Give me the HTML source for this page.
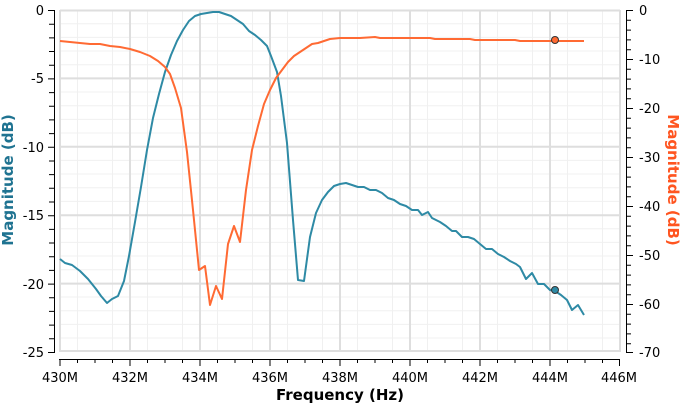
<!DOCTYPE html>
<html><head><style>body{margin:0;background:#fff}svg text{font-family:"DejaVu Sans","Liberation Sans",sans-serif}</style></head><body>
<svg width="683" height="408" viewBox="0 0 683 408" xmlns="http://www.w3.org/2000/svg">
<g stroke="#f0f0f0" stroke-width="1">
<path d="M77.5 10V352M112.5 10V352M147.5 10V352M182.5 10V352M217.5 10V352M252.5 10V352M287.5 10V352M322.5 10V352M357.5 10V352M392.5 10V352M427.5 10V352M462.5 10V352M497.5 10V352M532.5 10V352M567.5 10V352M602.5 10V352"/>
<path d="M60 23.7H620M60 37.4H620M60 51H620M60 64.7H620M60 92H620M60 105.7H620M60 119.4H620M60 133H620M60 160.4H620M60 174H620M60 187.7H620M60 201.4H620M60 228.7H620M60 242.4H620M60 256H620M60 269.7H620M60 297H620M60 310.7H620M60 324.4H620M60 338H620"/>
</g>
<g stroke="#dedede" stroke-width="2">
<path d="M60 10V352M130 10V352M200 10V352M270 10V352M340 10V352M410 10V352M480 10V352M550 10V352M620 10V352"/>
<path d="M60 10.5H620M60 78.4H620M60 146.8H620M60 215.2H620M60 283.6H620M60 351H620"/>
</g>
<g stroke="#000" stroke-width="1" fill="none">
<path d="M54.5 10V353M48 10.5H54.5M48 78.9H54.5M48 147.3H54.5M48 215.7H54.5M48 284.1H54.5M48 352.5H54.5"/>
<path d="M49 24.2H54.5M49 37.9H54.5M49 51.5H54.5M49 65.2H54.5M49 92.6H54.5M49 106.2H54.5M49 119.9H54.5M49 133.6H54.5M49 161H54.5M49 174.6H54.5M49 188.3H54.5M49 202H54.5M49 229.4H54.5M49 243H54.5M49 256.7H54.5M49 270.4H54.5M49 297.8H54.5M49 311.4H54.5M49 325.1H54.5M49 338.8H54.5"/>
<path d="M626.5 10V353M626.5 10.5H633M626.5 59.5H633M626.5 108.5H633M626.5 157.5H633M626.5 206.5H633M626.5 255.5H633M626.5 304.5H633M626.5 352.5H633"/>
<path d="M626.5 20.3H631M626.5 30.1H631M626.5 39.9H631M626.5 49.7H631M626.5 69.3H631M626.5 79.1H631M626.5 88.9H631M626.5 98.7H631M626.5 118.3H631M626.5 128.1H631M626.5 137.9H631M626.5 147.7H631M626.5 167.3H631M626.5 177.1H631M626.5 186.9H631M626.5 196.7H631M626.5 216.3H631M626.5 226.1H631M626.5 235.9H631M626.5 245.7H631M626.5 265.3H631M626.5 275.1H631M626.5 284.9H631M626.5 294.7H631M626.5 314.3H631M626.5 324.1H631M626.5 333.9H631M626.5 343.7H631"/>
<path d="M59 359.5H620M60 359.5V366M130 359.5V366M200 359.5V366M270 359.5V366M340 359.5V366M410 359.5V366M480 359.5V366M550 359.5V366M619.5 359.5V366M77.5 359.5V363M95 359.5V363M112.5 359.5V363M147.5 359.5V363M165 359.5V363M182.5 359.5V363M217.5 359.5V363M235 359.5V363M252.5 359.5V363M287.5 359.5V363M305 359.5V363M322.5 359.5V363M357.5 359.5V363M375 359.5V363M392.5 359.5V363M427.5 359.5V363M445 359.5V363M462.5 359.5V363M497.5 359.5V363M515 359.5V363M532.5 359.5V363M567.5 359.5V363M585 359.5V363M602.5 359.5V363"/>
</g>
<g font-size="13" fill="#000" text-anchor="end">
<text x="44" y="15">0</text><text x="44" y="83">-5</text><text x="44" y="152">-10</text><text x="44" y="220">-15</text><text x="44" y="289">-20</text><text x="44" y="357">-25</text>
</g>
<g font-size="13" fill="#000" text-anchor="start">
<text x="639" y="15">0</text><text x="639" y="64">-10</text><text x="639" y="113">-20</text><text x="639" y="162">-30</text><text x="639" y="211">-40</text><text x="639" y="260">-50</text><text x="639" y="309">-60</text><text x="639" y="357">-70</text>
</g>
<g font-size="13" fill="#000" text-anchor="middle">
<text x="60" y="382">430M</text><text x="130" y="382">432M</text><text x="200" y="382">434M</text><text x="270" y="382">436M</text><text x="340" y="382">438M</text><text x="410" y="382">440M</text><text x="480" y="382">442M</text><text x="550" y="382">444M</text><text x="619" y="382">446M</text>
</g>
<text x="340" y="400" font-size="15" font-weight="bold" text-anchor="middle">Frequency (Hz)</text>
<text transform="translate(13,180) rotate(-90)" font-size="15" font-weight="bold" fill="#1f7391" text-anchor="middle">Magnitude (dB)</text>
<text transform="translate(668,180) rotate(90)" font-size="15" font-weight="bold" fill="#ff5520" text-anchor="middle">Magnitude (dB)</text>
<polyline fill="none" stroke="#2e8aa5" stroke-width="2" stroke-linejoin="round" points="60,259 65,263 72,265 80,271 88,279 96,289 101,296 107,303 112,299 118,296 124,281 129,256 135,222 141,187 147,150 153,118 159,94 165,72 171,55 177,41 183,30 189,21 195,16 201,14 207,13 213,12 219,12 225,14 231,16 237,20 243,24 249,31 255,35 261,40 267,46 271,56 277,72 281,96 287,143 293,220 298,280 304,281 310,237 316,213 322,200 328,192 334,186 340,184 346,183 352,185 358,187 364,187 370,190 376,190 382,193 388,198 394,200 400,204 406,206 412,210 418,210 422,215 428,212 432,218 440,222 446,226 452,231 456,231 462,237 468,237 474,239 480,244 486,249 492,249 498,254 504,257 510,261 516,264 520,267 526,279 532,273 538,284 544,284 550,290 555,291 561,295 567,300 572,310 578,305 584,315"/>
<polyline fill="none" stroke="#ff6a33" stroke-width="2" stroke-linejoin="round" points="60,41 70,42 80,43 90,44 100,44 110,46 120,47 130,49 140,52 150,56 158,61 165,67 170,74 175,88 181,108 187,152 193,210 199,270 205,266 210,305 216,286 222,299 228,244 234,226 240,242 246,190 252,150 258,126 264,104 270,90 276,78 282,70 288,62 294,56 300,52 306,48 312,44 318,43 324,41 330,39 340,38 360,38 375,37 380,38 430,38 435,39 470,39 475,40 515,40 520,41 584,41"/>
<circle cx="555" cy="40" r="3.5" fill="#ff6a33" stroke="#333" stroke-width="1"/>
<circle cx="555" cy="290" r="3.5" fill="#2e8aa5" stroke="#333" stroke-width="1"/>
</svg>
</body></html>
